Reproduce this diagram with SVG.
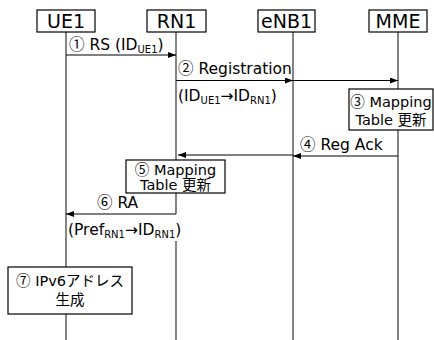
<svg xmlns="http://www.w3.org/2000/svg" width="434" height="340" viewBox="0 0 434 340">
<style>
text{font-family:"DejaVu Sans","Noto Sans CJK JP",sans-serif;fill:#000}
.hd{font-size:19px;text-anchor:middle}
.lb{font-size:15.5px}
.bx{font-size:14.5px;text-anchor:middle}
.sub{font-size:10px}
.c{font-family:"Noto Sans CJK JP",sans-serif}
.box{fill:#fff;stroke:#000;stroke-width:1.2}
.life{stroke:#333;stroke-width:1.2;fill:none}
.msg{stroke:#000;stroke-width:1.2;fill:none;marker-end:url(#ah)}
</style>
<defs>
<marker id="ah" viewBox="0 0 8 6" refX="8" refY="3" markerWidth="8" markerHeight="6" markerUnits="userSpaceOnUse" orient="auto">
<path d="M0,0 L8,3 L0,6 z" fill="#000"/>
</marker>
</defs>
<g id="lifelines">
<line class="life" x1="66" y1="32" x2="66" y2="340"/>
<line class="life" x1="176" y1="32" x2="176" y2="214"/>
<line class="life" x1="176" y1="241" x2="176" y2="340"/>
<line class="life" x1="293" y1="32" x2="293" y2="340"/>
<line class="life" x1="398" y1="32" x2="398" y2="340"/>
</g>
<g id="UE1"><rect class="box" x="37" y="10" width="58" height="22"/><text class="hd" x="66" y="28">UE1</text></g>
<g id="RN1"><rect class="box" x="147" y="10" width="59" height="22"/><text class="hd" x="176.5" y="28">RN1</text></g>
<g id="eNB1"><rect class="box" x="258" y="10" width="57" height="22"/><text class="hd" x="286.5" y="28">eNB1</text></g>
<g id="MME"><rect class="box" x="369" y="10" width="58" height="22"/><text class="hd" x="398" y="28">MME</text></g>
<g id="connectors">
<line class="msg" x1="66" y1="55" x2="176" y2="55"/>
<line class="msg" x1="176" y1="80.5" x2="293" y2="80.5"/>
<line class="msg" x1="293" y1="80.5" x2="398" y2="80.5"/>
<line class="msg" x1="398" y1="156" x2="293" y2="156"/>
<line class="msg" x1="293" y1="155" x2="178" y2="155"/>
<line class="msg" x1="176" y1="214" x2="66" y2="214"/>
</g>
<g id="labels">
<text class="lb" x="69" y="50"><tspan class="c">①</tspan> RS (ID<tspan class="sub" dy="3">UE1</tspan><tspan dy="-3">)</tspan></text>
<text class="lb" x="178" y="74"><tspan class="c">②</tspan> Registration</text>
<text class="lb" x="178" y="101">(ID<tspan class="sub" dy="3">UE1</tspan><tspan dy="-3">→ID</tspan><tspan class="sub" dy="3">RN1</tspan><tspan dy="-3">)</tspan></text>
<text class="lb" x="300" y="150"><tspan class="c">④</tspan> Reg Ack</text>
<text class="lb" x="97" y="208"><tspan class="c">⑥</tspan> RA</text>
<text class="lb" x="68" y="235">(Pref<tspan class="sub" dy="3">RN1</tspan><tspan dy="-3">→ID</tspan><tspan class="sub" dy="3">RN1</tspan><tspan dy="-3">)</tspan></text>
</g>
<g id="step3"><rect class="box" x="349" y="89" width="84" height="41"/><text class="bx" x="391" y="107"><tspan class="c">③</tspan> Mapping</text><text class="bx" x="391" y="125">Table 更新</text></g>
<g id="step5"><rect class="box" x="126" y="160" width="99" height="33"/><text class="bx" x="175.5" y="175"><tspan class="c">⑤</tspan> Mapping</text><text class="bx" x="175.5" y="190">Table 更新</text></g>
<g id="step7"><rect class="box" x="8" y="267" width="124" height="47"/><text class="bx" x="70" y="286"><tspan class="c">⑦</tspan> IPv6アドレス</text><text class="bx" x="70" y="305">生成</text></g>
</svg>
